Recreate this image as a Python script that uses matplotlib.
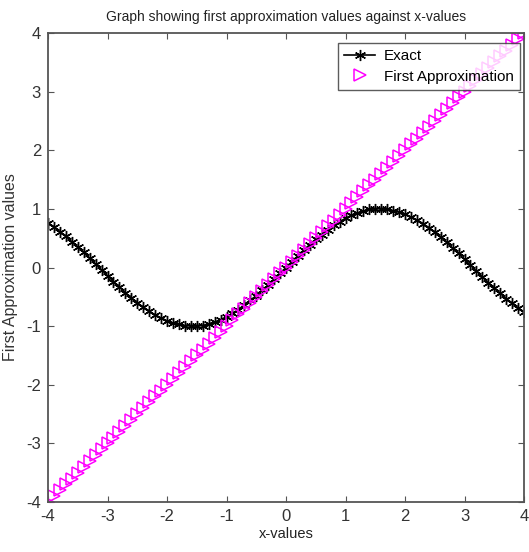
import matplotlib
matplotlib.use("Agg")
import matplotlib.pyplot as plt

plt.rcParams['font.family'] = ['Liberation Sans', 'DejaVu Sans']
plt.rcParams['axes.unicode_minus'] = False

x_values = [-4.0, -3.9, -3.8, -3.7, -3.6, -3.5, -3.4, -3.3, -3.2, -3.1,
            -3.0, -2.9, -2.8, -2.7, -2.6, -2.5, -2.4, -2.3, -2.2, -2.1,
            -2.0, -1.9, -1.8, -1.7, -1.6, -1.5, -1.4, -1.3, -1.2, -1.1,
            -1.0, -0.9, -0.8, -0.7, -0.6, -0.5, -0.4, -0.3, -0.2, -0.1,
            0.0, 0.1, 0.2, 0.3, 0.4, 0.5, 0.6, 0.7, 0.8, 0.9,
            1.0, 1.1, 1.2, 1.3, 1.4, 1.5, 1.6, 1.7, 1.8, 1.9,
            2.0, 2.1, 2.2, 2.3, 2.4, 2.5, 2.6, 2.7, 2.8, 2.9,
            3.0, 3.1, 3.2, 3.3, 3.4, 3.5, 3.6, 3.7, 3.8, 3.9, 4.0]

exact = [0.76, 0.69, 0.61, 0.53, 0.44, 0.35, 0.26, 0.16, 0.06, -0.04,
         -0.14, -0.24, -0.33, -0.43, -0.52, -0.60, -0.68, -0.75, -0.81, -0.86,
         -0.91, -0.95, -0.97, -0.99, -1.00, -1.00, -0.99, -0.96, -0.93, -0.89,
         -0.84, -0.78, -0.72, -0.64, -0.56, -0.48, -0.39, -0.30, -0.20, -0.10,
         0.00, 0.10, 0.20, 0.30, 0.39, 0.48, 0.56, 0.64, 0.72, 0.78,
         0.84, 0.89, 0.93, 0.96, 0.99, 1.00, 1.00, 0.99, 0.97, 0.95,
         0.91, 0.86, 0.81, 0.75, 0.68, 0.60, 0.52, 0.43, 0.33, 0.24,
         0.14, 0.04, -0.06, -0.16, -0.26, -0.35, -0.44, -0.53, -0.61, -0.69, -0.76]

first_approx = [-4.0, -3.9, -3.8, -3.7, -3.6, -3.5, -3.4, -3.3, -3.2, -3.1,
                -3.0, -2.9, -2.8, -2.7, -2.6, -2.5, -2.4, -2.3, -2.2, -2.1,
                -2.0, -1.9, -1.8, -1.7, -1.6, -1.5, -1.4, -1.3, -1.2, -1.1,
                -1.0, -0.9, -0.8, -0.7, -0.6, -0.5, -0.4, -0.3, -0.2, -0.1,
                0.0, 0.1, 0.2, 0.3, 0.4, 0.5, 0.6, 0.7, 0.8, 0.9,
                1.0, 1.1, 1.2, 1.3, 1.4, 1.5, 1.6, 1.7, 1.8, 1.9,
                2.0, 2.1, 2.2, 2.3, 2.4, 2.5, 2.6, 2.7, 2.8, 2.9,
                3.0, 3.1, 3.2, 3.3, 3.4, 3.5, 3.6, 3.7, 3.8, 3.9, 4.0]

ticks = [-4, -3, -2, -1, 0, 1, 2, 3, 4]

fig = plt.figure(figsize=(5.29, 5.52), dpi=100)
ax = fig.add_axes([48/529, 1-502/552, 476/529, 469/552])

ax.plot(x_values, exact, color='black', marker=(6, 2, 0), markersize=8,
        markeredgewidth=1.0, linewidth=1.2, label='Exact')
ax.plot(x_values, first_approx, color='magenta', marker='>', markersize=8,
        markerfacecolor='none', linestyle='none', markeredgewidth=1.1,
        label='First Approximation')

ax.set_xlim(-4, 4)
ax.set_ylim(-4, 4)
ax.set_xticks(ticks)
ax.set_yticks(ticks)
for s in ax.spines.values():
    s.set_color('#555555')
    s.set_linewidth(1.3)
ax.tick_params(direction='in', top=True, right=True, length=4, color='#555555',
               labelsize=12, labelcolor='#333333', pad=5)

ax.set_title('Graph showing first approximation values against x-values',
             fontsize=10, color='#222222', pad=9)
ax.set_xlabel('x-values', fontsize=10.5, color='#222222', labelpad=2)
ax.set_ylabel('First Approximation values', fontsize=11.5, color='#333333',
              labelpad=6)

leg = ax.legend(loc='upper right', fontsize=11, frameon=True, fancybox=False,
                edgecolor='#333333', handlelength=2.0,
                borderpad=0.4, labelspacing=0.45, handletextpad=0.6,
                bbox_to_anchor=(0.992, 0.979), borderaxespad=0.0)
leg.get_frame().set_linewidth(1)

fig.savefig('out.png', dpi=100)
